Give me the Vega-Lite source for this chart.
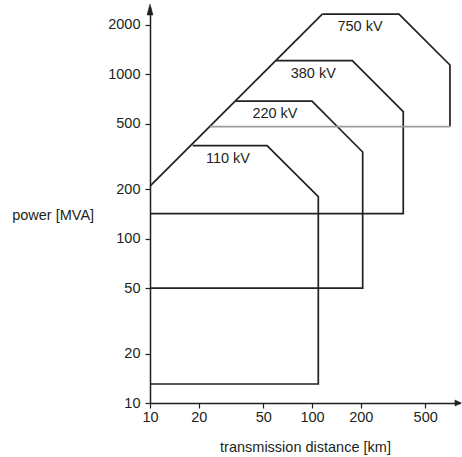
{
  "$schema": "https://vega.github.io/schema/vega-lite/v6.json",
  "width": 310,
  "height": 396,
  "autosize": {"type": "none"},
  "padding": {"left": 150, "top": 7, "right": 2, "bottom": 54},
  "background": "white",
  "config": {"view": {"stroke": null}, "font": "Liberation Sans"},
  "datasets": {
    "lines": [
      {"series": "envelope", "i": 0, "x": 10, "y": 208.7},
      {"series": "envelope", "i": 1, "x": 115.8, "y": 2320},
      {"series": "110 kV", "i": 0, "x": 10, "y": 13.05},
      {"series": "110 kV", "i": 1, "x": 109.4, "y": 13.05},
      {"series": "110 kV", "i": 2, "x": 109.4, "y": 179.8},
      {"series": "110 kV", "i": 3, "x": 52.8, "y": 367},
      {"series": "110 kV", "i": 4, "x": 18.35, "y": 367},
      {"series": "220 kV", "i": 0, "x": 10, "y": 50},
      {"series": "220 kV", "i": 1, "x": 205.6, "y": 50},
      {"series": "220 kV", "i": 2, "x": 205.6, "y": 336},
      {"series": "220 kV", "i": 3, "x": 100, "y": 686},
      {"series": "220 kV", "i": 4, "x": 33.5, "y": 686},
      {"series": "380 kV", "i": 0, "x": 10, "y": 141.6},
      {"series": "380 kV", "i": 1, "x": 366, "y": 141.6},
      {"series": "380 kV", "i": 2, "x": 366, "y": 591},
      {"series": "380 kV", "i": 3, "x": 177.4, "y": 1207},
      {"series": "380 kV", "i": 4, "x": 59.9, "y": 1207},
      {"series": "750 kV", "i": 0, "x": 115.8, "y": 2320},
      {"series": "750 kV", "i": 1, "x": 344.4, "y": 2320},
      {"series": "750 kV", "i": 2, "x": 711, "y": 1136},
      {"series": "750 kV", "i": 3, "x": 711, "y": 480},
      {"series": "750 kV base", "i": 0, "x": 711, "y": 480},
      {"series": "750 kV base", "i": 1, "x": 23.5, "y": 480}
    ],
    "labels": [
      {"label": "750 kV", "x": 197.9, "y": 1943},
      {"label": "380 kV", "x": 101.9, "y": 1002},
      {"label": "220 kV", "x": 59.1, "y": 570},
      {"label": "110 kV", "x": 30.3, "y": 303}
    ],
    "yarrow": [
      {"x": 9.58, "y": 2288, "y2": 2288},
      {"x": 10, "y": 2670, "y2": 2288},
      {"x": 10.44, "y": 2288, "y2": 2288}
    ],
    "xarrow": [
      {"y": 9.59, "x": 763, "x2": 763},
      {"y": 10, "x": 837, "x2": 763},
      {"y": 10.43, "x": 763, "x2": 763}
    ]
  },
  "layer": [
    {
      "data": {"name": "lines"},
      "mark": {"type": "line", "strokeWidth": 1.7, "strokeJoin": "miter"},
      "encoding": {
        "x": {
          "field": "x", "type": "quantitative",
          "scale": {"type": "log", "domain": [10, 820], "nice": false},
          "axis": {
            "values": [10, 20, 50, 100, 200, 500], "format": "d",
            "title": "transmission distance [km]", "grid": false, "labelFlush": false,
            "tickSize": 5, "labelPadding": 2, "domainColor": "#231f20", "domainWidth": 1.5,
            "tickColor": "#231f20", "tickWidth": 1.2, "labelFontSize": 14.5, "labelColor": "#231f20",
            "labelFont": "Liberation Sans", "titleFont": "Liberation Sans",
            "titleFontSize": 14.5, "titleFontWeight": "normal", "titleColor": "#231f20",
            "titleBaseline": "alphabetic", "titleY": 48
          }
        },
        "y": {
          "field": "y", "type": "quantitative",
          "scale": {"type": "log", "domain": [10, 2560], "nice": false},
          "axis": {
            "values": [10, 20, 50, 100, 200, 500, 1000, 2000], "format": "d",
            "title": "power [MVA]", "grid": false, "labelFlush": false,
            "tickSize": 5, "labelPadding": 5, "domainColor": "#231f20", "domainWidth": 1.5,
            "tickColor": "#231f20", "tickWidth": 1.2, "labelFontSize": 14.5, "labelColor": "#231f20",
            "labelFont": "Liberation Sans", "titleFont": "Liberation Sans",
            "titleFontSize": 14.5, "titleFontWeight": "normal", "titleColor": "#231f20",
            "titleAngle": 0, "titleAlign": "left", "titleBaseline": "alphabetic",
            "titleX": -138.3, "titleY": 212.5
          }
        },
        "detail": {"field": "series"},
        "order": {"field": "i", "type": "quantitative"},
        "color": {
          "field": "series", "type": "nominal", "legend": null,
          "scale": {
            "domain": ["envelope", "110 kV", "220 kV", "380 kV", "750 kV", "750 kV base"],
            "range": ["#231f20", "#231f20", "#231f20", "#231f20", "#231f20", "#9d9d9d"]
          }
        }
      }
    },
    {
      "data": {"name": "labels"},
      "mark": {"type": "text", "fontSize": 14.5, "font": "Liberation Sans", "align": "center", "baseline": "middle", "color": "#231f20"},
      "encoding": {
        "x": {"field": "x", "type": "quantitative"},
        "y": {"field": "y", "type": "quantitative"},
        "text": {"field": "label"}
      }
    },
    {
      "data": {"name": "yarrow"},
      "mark": {"type": "area", "orient": "vertical", "fill": "#231f20", "opacity": 1, "stroke": "#231f20", "strokeWidth": 0.5},
      "encoding": {
        "x": {"field": "x", "type": "quantitative"},
        "y": {"field": "y", "type": "quantitative"},
        "y2": {"field": "y2"}
      }
    },
    {
      "data": {"name": "xarrow"},
      "mark": {"type": "area", "orient": "horizontal", "fill": "#231f20", "opacity": 1, "stroke": "#231f20", "strokeWidth": 0.5},
      "encoding": {
        "y": {"field": "y", "type": "quantitative"},
        "x": {"field": "x", "type": "quantitative"},
        "x2": {"field": "x2"}
      }
    }
  ]
}
